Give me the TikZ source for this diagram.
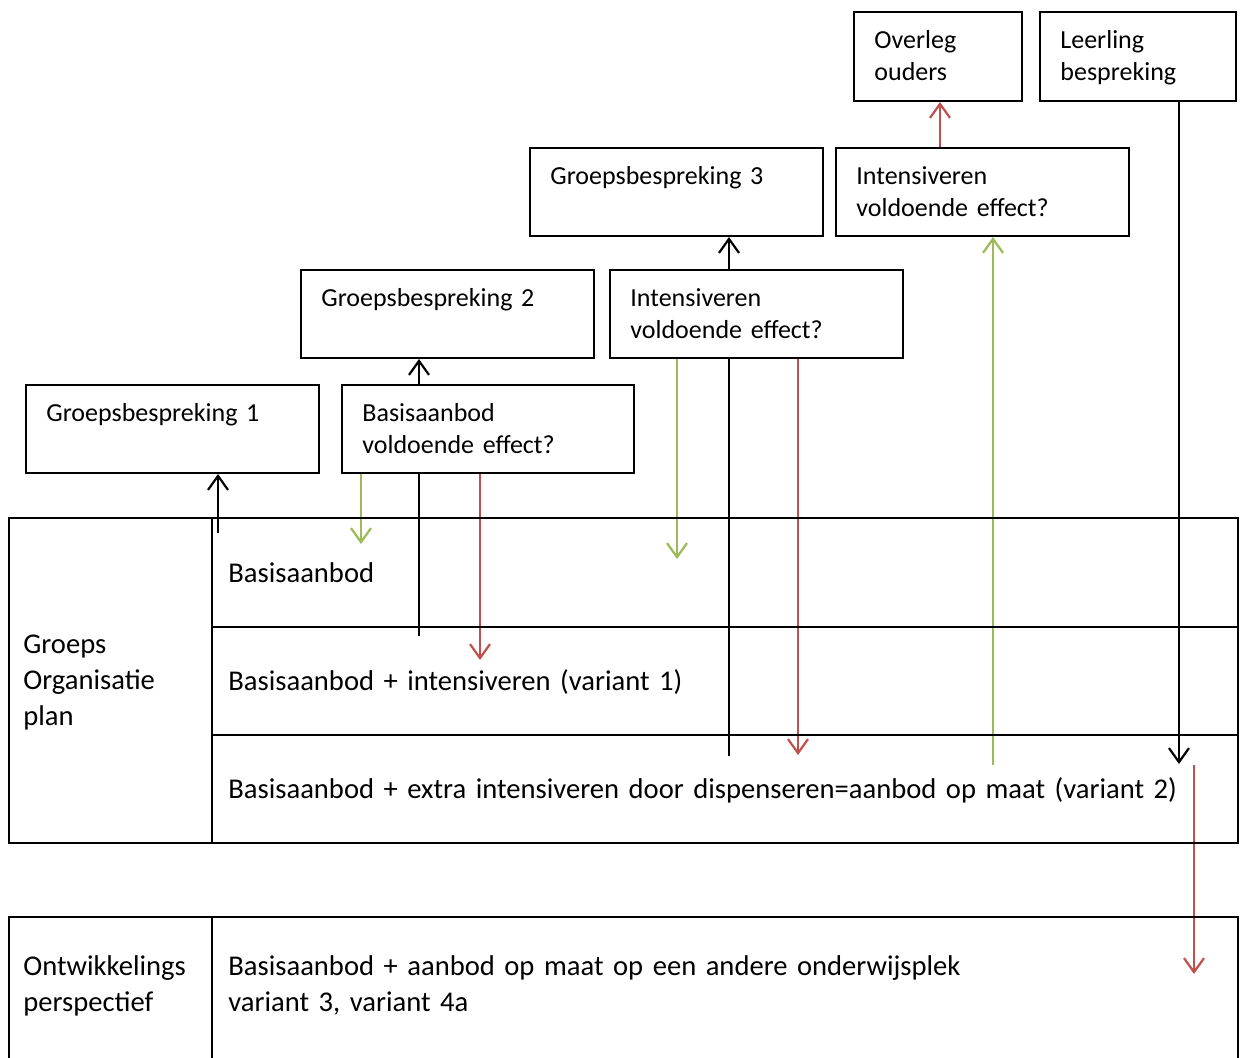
\documentclass[tikz,border=0pt]{standalone}
\usepackage{fontspec}
\setmainfont{Carlito}
\usetikzlibrary{arrows.meta,backgrounds}
\definecolor{okgreen}{RGB}{155,187,89}
\definecolor{nored}{RGB}{192,80,77}

\begin{document}
\begin{tikzpicture}[
      x=0.5pt,y=-0.5pt,
      box/.style={draw,fill=white,line width=1pt,anchor=north west,inner sep=0pt,
                  minimum width=146.5pt,minimum height=44pt},
      txt/.style={anchor=base west,inner sep=0pt,align=left,text width=130pt,
                  font=\fontsize{13}{16}\selectfont},
      intxt/.style={txt,xshift=10.5pt,yshift=-18.5pt},
      tbl/.style={txt,text width=520pt,font=\fontsize{14.3}{18}\selectfont},
      ar/.style={-{Straight Barb[length=7pt,width=10pt]},line width=1.1pt}
    ]
    \useasboundingbox (0,0) rectangle (1243,1057);

    % top boxes
    \node[box,minimum width=84pt,minimum height=44.5pt,label={[intxt]north west:Overleg\\ouders}] (oo) at (853,11) {};
    \node[box,minimum width=98pt,minimum height=44.5pt,label={[intxt]north west:Leerling\\bespreking}] (lb) at (1039,11) {};
    \node[box,label={[intxt]north west:Groepsbespreking 3}] (gb3) at (529,147) {};
    \node[box,label={[intxt]north west:Intensiveren\\voldoende effect?}] (iv2) at (835,147) {};
    \node[box,label={[intxt]north west:Groepsbespreking 2}] (gb2) at (300,269) {};
    \node[box,label={[intxt]north west:Intensiveren\\voldoende effect?}] (iv1) at (609,269) {};
    \node[box,label={[intxt]north west:Groepsbespreking 1}] (gb1) at (25,384) {};
    \node[box,minimum width=146pt,label={[intxt]north west:Basisaanbod\\voldoende effect?}] (bv) at (341,384) {};

    % groeps organisatie plan
    \draw[line width=1pt] (9,518) rectangle (1238,843);
    \draw[line width=1pt] (212,518) -- (212,843);
    \draw[line width=1pt] (212,627) -- (1238,627);
    \draw[line width=1pt] (212,735) -- (1238,735);
    \node[tbl] (gop) at (23,653) {Groeps\\Organisatie\\plan};
    \node[tbl] (r1) at (228,582) {Basisaanbod};
    \node[tbl] (r2) at (228,690) {Basisaanbod + intensiveren (variant 1)};
    \node[tbl] (r3) at (228,798) {Basisaanbod + extra intensiveren door dispenseren=aanbod op maat (variant 2)};

    % ontwikkelings perspectief
    \draw[line width=1pt] (9,1060) -- (9,917) -- (1238,917) -- (1238,1060);
    \draw[line width=1pt] (212,917) -- (212,1060);
    \node[tbl] (opp) at (23,975) {Ontwikkelings\\perspectief};
    \node[tbl] (r4) at (228,975) {Basisaanbod + aanbod op maat op een andere onderwijsplek\\variant 3, variant 4a};

    % loose ends
    \coordinate (a1) at (218,533);
    \coordinate (a2) at (419,636);
    \coordinate (g1) at (361,544);
    \coordinate (rd1) at (480,660);
    \coordinate (g2) at (677,559);
    \coordinate (a3) at (729,756);
    \coordinate (rd2) at (798,755);
    \coordinate (g3) at (993,765);
    \coordinate (ro) at (940,147);
    \coordinate (a4) at (1179,764);
    \coordinate (rd3) at (1194,765);
    \coordinate (rd4) at (1194,974);

    \begin{scope}[on background layer]
    \draw[ar] (a1) -- (a1 |- gb1.south);
    \draw[ar] (a2) -- (a2 |- gb2.south);
    \draw[ar,okgreen] (g1 |- bv.south) -- (g1);
    \draw[ar,nored] (rd1 |- bv.south) -- (rd1);
    \draw[ar,okgreen] (g2 |- iv1.south) -- (g2);
    \draw[ar] (a3) -- (a3 |- gb3.south);
    \draw[ar,nored] (rd2 |- iv1.south) -- (rd2);
    \draw[ar,okgreen] (g3) -- (g3 |- iv2.south);
    \draw[ar,nored] (ro) -- (ro |- oo.south);
    \draw[ar] (a4 |- lb.south) -- (a4);
    \draw[ar,nored] (rd3) -- (rd4);
    \end{scope}
  \end{tikzpicture}
\end{document}
